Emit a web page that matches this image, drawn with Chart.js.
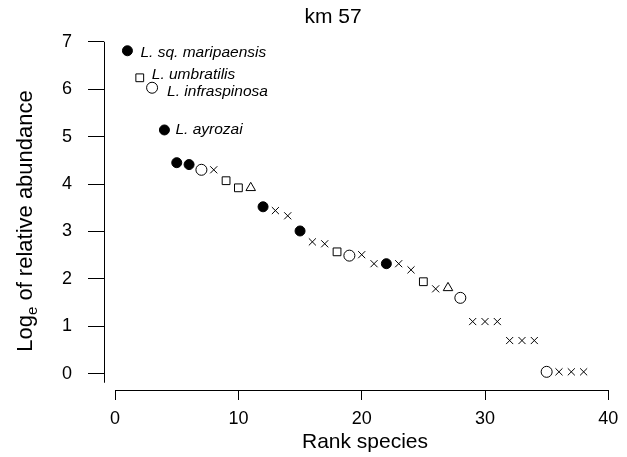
<!DOCTYPE html>
<html>
<head>
<meta charset="utf-8">
<script src="https://cdn.jsdelivr.net/npm/chart.js@4.4.1/dist/chart.umd.min.js"></script>
<style>
  html, body { margin: 0; padding: 0; background: #fff; }
  #wrap { width: 627px; height: 457px; position: relative; }
</style>
</head>
<body>
<div id="wrap"><canvas id="rank"></canvas></div>
<script>
const chartTitle = "km 57";
const xTitle = "Rank species";
const ranks = [1, 2, 3, 4, 5, 6, 7, 8, 9, 10, 11, 12, 13, 14, 15, 16, 17, 18, 19,
  20, 21, 22, 23, 24, 25, 26, 27, 28, 29, 30, 31, 32, 33, 34, 35, 36, 37, 38];
const abundance = [6.81, 6.24, 6.03, 5.14, 4.45, 4.41, 4.30, 4.30, 4.07, 3.92,
  3.92, 3.52, 3.44, 3.33, 3.01, 2.78, 2.74, 2.57, 2.49, 2.51, 2.32, 2.32, 2.32,
  2.19, 1.94, 1.79, 1.81, 1.60, 1.10, 1.10, 1.10, 0.70, 0.70, 0.70, 0.04, 0.04,
  0.04, 0.04];
const symbols = ["filled", "square", "open", "filled", "filled", "filled", "open",
  "cross", "square", "square", "triangle", "filled", "cross", "cross", "filled",
  "cross", "cross", "square", "open", "cross", "cross", "filled", "cross", "cross",
  "square", "cross", "triangle", "open", "cross", "cross", "cross", "cross", "cross",
  "cross", "open", "cross", "cross", "cross"];
const xTicks = [0, 10, 20, 30, 40];
const yTicks = [0, 1, 2, 3, 4, 5, 6, 7];
const labelRanks = [1, 2, 3, 4];
const labelNames = ["L. sq. maripaensis", "L. umbratilis", "L. infraspinosa", "L. ayrozai"];

const FONT = "'Liberation Sans', Arial, Helvetica, sans-serif";

// marker look per symbol
const markers = {
  filled: { style: "circle", r: 5, fill: "#000" },
  open: { style: "circle", r: 5.5, fill: "#fff" },
  square: { style: "rect", r: 5.5, fill: "#fff" },
  triangle: { style: "triangle", r: 5.5, fill: "#fff" },
  cross: { style: "crossRot", r: 5, fill: "#000" },
};

const datasets = Object.keys(markers).map(key => ({
  label: key,
  data: ranks.map((r, i) => ({ x: r, y: abundance[i] })).filter((p, i) => symbols[i] === key),
  showLine: false,
  pointStyle: markers[key].style,
  pointRadius: markers[key].r,
  pointBackgroundColor: markers[key].fill,
  pointBorderColor: "#000",
  pointBorderWidth: 1,
}));

// where the species names sit relative to their point
const labelOffsets = [[13, 2], [12, -3], [15, 4], [11, 0]];

const decorations = {
  id: "decorations",
  afterDraw(chart) {
    const { ctx, chartArea } = chart;
    const x = chart.scales.x, y = chart.scales.y;
    ctx.save();
    ctx.strokeStyle = "#000";
    ctx.lineWidth = 1;
    ctx.beginPath();
    const ax = Math.round(chartArea.left) + 0.5;
    ctx.moveTo(ax, y.getPixelForValue(7));
    ctx.lineTo(ax, y.getPixelForValue(-0.19));
    const ay = Math.round(chartArea.bottom) + 0.5;
    ctx.moveTo(x.getPixelForValue(0), ay);
    ctx.lineTo(x.getPixelForValue(40) + 0.5, ay);
    ctx.stroke();

    ctx.fillStyle = "#000";
    ctx.textBaseline = "middle";
    ctx.textAlign = "center";
    ctx.font = "21px " + FONT;
    ctx.fillText(chartTitle, 333, 17);

    ctx.textBaseline = "alphabetic";
    ctx.fillText(xTitle, 365, 448);

    // y title with subscript e
    ctx.translate(32, 221);
    ctx.rotate(-Math.PI / 2);
    const big = "22px " + FONT, small = "15px " + FONT;
    ctx.font = big;
    const w1 = ctx.measureText("Log").width;
    const w3 = ctx.measureText(" of relative abundance").width;
    ctx.font = small;
    const w2 = ctx.measureText("e").width;
    let sx = -(w1 + w2 + w3) / 2;
    ctx.textAlign = "left";
    ctx.font = big;
    ctx.fillText("Log", sx, 0);
    ctx.font = small;
    ctx.fillText("e", sx + w1, 5);
    ctx.font = big;
    ctx.fillText(" of relative abundance", sx + w1 + w2, 0);
    ctx.setTransform(1, 0, 0, 1, 0, 0);

    ctx.font = "italic 15.5px " + FONT;
    ctx.textAlign = "left";
    ctx.textBaseline = "middle";
    labelRanks.forEach((r, i) => {
      const px = x.getPixelForValue(r) + labelOffsets[i][0];
      const py = y.getPixelForValue(abundance[r - 1]) + labelOffsets[i][1];
      ctx.fillText(labelNames[i], px, py);
    });
    ctx.restore();
  }
};

new Chart(document.getElementById("rank").getContext("2d"), {
  type: "scatter",
  data: { datasets: datasets },
  options: {
    responsive: true,
    maintainAspectRatio: false,
    animation: false,
    layout: { padding: { top: 37, right: 15, bottom: 0, left: 0 } },
    plugins: {
      legend: { display: false },
      tooltip: { enabled: false },
    },
    scales: {
      x: {
        type: "linear",
        min: -0.9,
        max: 40.3,
        border: { display: false },
        grid: { drawOnChartArea: false, tickLength: 10, color: "#000", lineWidth: 1 },
        ticks: { color: "#000", font: { size: 18, family: FONT }, padding: 8, maxRotation: 0 },
        afterBuildTicks: s => { s.ticks = xTicks.map(v => ({ value: v })); },
        afterFit: s => { s.height = 67; },
      },
      y: {
        type: "linear",
        min: -0.343,
        max: 7.1,
        border: { display: false },
        grid: { drawOnChartArea: false, tickLength: 16, color: "#000", lineWidth: 1 },
        ticks: { color: "#000", font: { size: 18, family: FONT }, padding: 16 },
        afterBuildTicks: s => { s.ticks = yTicks.map(v => ({ value: v })); },
        afterFit: s => { s.width = 104; },
      },
    },
  },
  plugins: [decorations],
});
</script>
</body>
</html>
